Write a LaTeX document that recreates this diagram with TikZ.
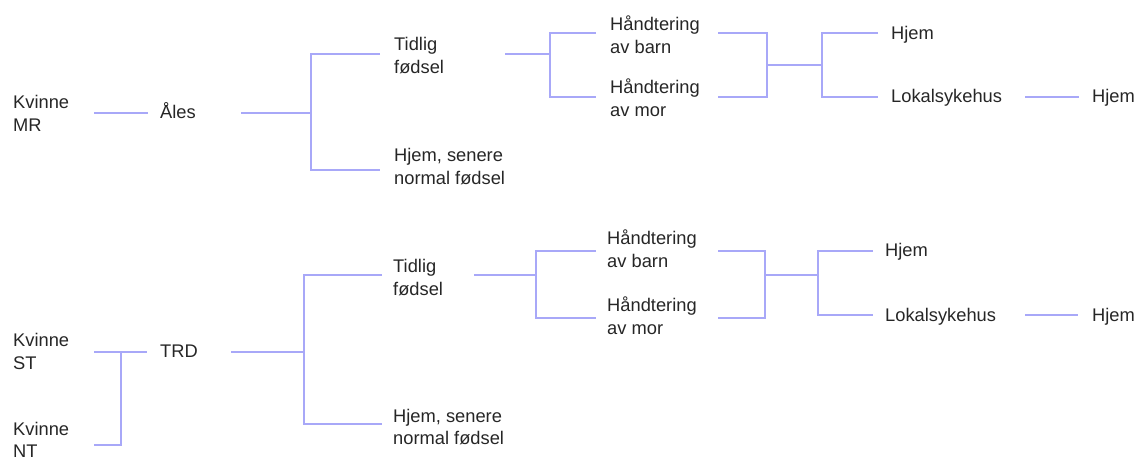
\documentclass[tikz,border=0pt]{standalone}
\usepackage{fontspec}
\setmainfont{Liberation Sans}
\definecolor{ln}{RGB}{168,168,248}
\definecolor{tx}{RGB}{38,38,38}
\newcommand{\twol}[2]{\vtop{\hbox{#1}\hbox{#2}}}
\begin{document}
\begin{tikzpicture}[x=1pt,y=-1pt,
  lbl/.style={anchor=base west, inner sep=0pt, text=tx, font=\fontsize{18.3}{22.5}\selectfont},
  wire/.style={draw=ln, line width=2pt}]
\useasboundingbox (0,0) rectangle (1138,462);

% ---------- top tree ----------
\node[lbl] (mr)  at (13,109)  {\twol{Kvinne}{MR}};
\node[lbl] (ales) at (160,119) {Åles};
\node[lbl] (tf1) at (394,51)  {\twol{Tidlig}{fødsel}};
\node[lbl] (hs1) at (394,162) {\twol{Hjem, senere}{normal fødsel}};
\node[lbl] (hb1) at (610,31)  {\twol{Håndtering}{av barn}};
\node[lbl] (hm1) at (610,94)  {\twol{Håndtering}{av mor}};
\node[lbl] (hj1) at (891,40)  {Hjem};
\node[lbl] (ls1) at (891,103) {Lokalsykehus};
\node[lbl] (hk1) at (1092,103) {Hjem};

\coordinate (a1) at (94,113);  \coordinate (a2) at (148,113);
\coordinate (a3) at (241,113); \coordinate (a4) at (311,113);
\coordinate (b1t) at (311,54); \coordinate (b1b) at (311,170);
\coordinate (b1te) at (380,54); \coordinate (b1be) at (380,170);
\coordinate (c1) at (505,54);  \coordinate (c2) at (550,54);
\coordinate (b2t) at (550,33); \coordinate (b2b) at (550,97);
\coordinate (b2te) at (596,33); \coordinate (b2be) at (596,97);
\coordinate (d1t) at (718,33); \coordinate (d1b) at (718,97);
\coordinate (b3t) at (767,33); \coordinate (b3b) at (767,97);
\coordinate (b3m) at (767,65); \coordinate (b4m) at (822,65);
\coordinate (b4t) at (822,33); \coordinate (b4b) at (822,97);
\coordinate (b4te) at (878,33); \coordinate (b4be) at (878,97);
\coordinate (e1) at (1025,97); \coordinate (e2) at (1079,97);

\draw[wire] (a1) -- (a2);
\draw[wire] (a3) -- (a4);
\draw[wire] (b1te) -- (b1t) -- (b1b) -- (b1be);
\draw[wire] (c1) -- (c2);
\draw[wire] (b2te) -- (b2t) -- (b2b) -- (b2be);
\draw[wire] (d1t) -- (b3t) -- (b3b) -- (d1b);
\draw[wire] (b3m) -- (b4m);
\draw[wire] (b4te) -- (b4t) -- (b4b) -- (b4be);
\draw[wire] (e1) -- (e2);

% ---------- bottom tree ----------
\node[lbl] (st)  at (13,347)  {\twol{Kvinne}{ST}};
\node[lbl] (nt)  at (13,435)  {\twol{Kvinne}{NT}};
\node[lbl] (trd) at (160,358) {TRD};
\node[lbl] (tf2) at (393,273) {\twol{Tidlig}{fødsel}};
\node[lbl] (hs2) at (393,422) {\twol{Hjem, senere}{normal fødsel}};
\node[lbl] (hb2) at (607,245) {\twol{Håndtering}{av barn}};
\node[lbl] (hm2) at (607,312) {\twol{Håndtering}{av mor}};
\node[lbl] (hj2) at (885,257) {Hjem};
\node[lbl] (ls2) at (885,322) {Lokalsykehus};
\node[lbl] (hk2) at (1092,322) {Hjem};

\coordinate (f1) at (94,352);  \coordinate (f2) at (147,352);
\coordinate (g1) at (94,445);  \coordinate (g2) at (121,445); \coordinate (g3) at (121,352);
\coordinate (h1) at (231,352); \coordinate (h2) at (304,352);
\coordinate (b5t) at (304,275); \coordinate (b5b) at (304,424);
\coordinate (b5te) at (382,275); \coordinate (b5be) at (382,424);
\coordinate (i1) at (474,275); \coordinate (i2) at (536,275);
\coordinate (b6t) at (536,251); \coordinate (b6b) at (536,318);
\coordinate (b6te) at (596,251); \coordinate (b6be) at (596,318);
\coordinate (k1t) at (718,251); \coordinate (k1b) at (718,318);
\coordinate (b7t) at (765,251); \coordinate (b7b) at (765,318);
\coordinate (b7m) at (765,275); \coordinate (b8m) at (818,275);
\coordinate (b8t) at (818,251); \coordinate (b8b) at (818,315);
\coordinate (b8te) at (873,251); \coordinate (b8be) at (873,315);
\coordinate (m1) at (1025,315); \coordinate (m2) at (1078,315);

\draw[wire] (f1) -- (f2);
\draw[wire] (g1) -- (g2) -- (g3);
\draw[wire] (h1) -- (h2);
\draw[wire] (b5te) -- (b5t) -- (b5b) -- (b5be);
\draw[wire] (i1) -- (i2);
\draw[wire] (b6te) -- (b6t) -- (b6b) -- (b6be);
\draw[wire] (k1t) -- (b7t) -- (b7b) -- (k1b);
\draw[wire] (b7m) -- (b8m);
\draw[wire] (b8te) -- (b8t) -- (b8b) -- (b8be);
\draw[wire] (m1) -- (m2);
\end{tikzpicture}
\end{document}
